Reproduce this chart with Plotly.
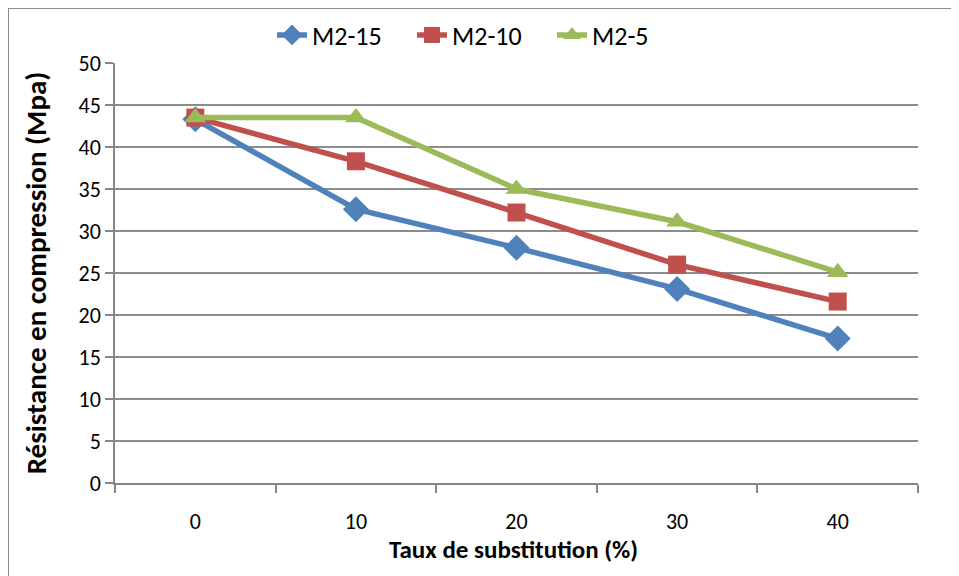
import plotly.graph_objects as go

categories = ["0", "10", "20", "30", "40"]
m2_15 = [43.3, 32.6, 28.0, 23.1, 17.2]
m2_10 = [43.5, 38.3, 32.2, 26.0, 21.6]
m2_5 = [43.5, 43.5, 35.0, 31.1, 25.1]
y_ticks = [0, 5, 10, 15, 20, 25, 30, 35, 40, 45, 50]

FONT = "Carlito, Lato, sans-serif"

# the page body has an 8px default margin, so the figure is 8px smaller
W, H = 951, 568
L, T, PW, PH = 107, 55, 803, 420

fig = go.Figure()
series = [
    ("M2-15", m2_15, "#4F81BD", "diamond", 20),
    ("M2-10", m2_10, "#C0504D", "square", 18),
    ("M2-5", m2_5, "#9BBB59", "triangle-up", 19),
]
for name, vals, col, sym, sz in series:
    fig.add_trace(go.Scatter(
        x=categories, y=vals, name=name, mode="lines+markers",
        line=dict(color=col, width=5.5),
        marker=dict(symbol=sym, size=sz, color=col),
    ))

fig.update_layout(
    width=W, height=H,
    margin=dict(l=L, r=W - L - PW, t=T, b=H - T - PH, autoexpand=False),
    paper_bgcolor="white", plot_bgcolor="white",
    font=dict(family=FONT, size=22, color="black"),
    showlegend=True,
    legend=dict(orientation="h", x=(482 - 8 - L) / PW, xanchor="center",
                y=1.0 - 27 / H, yref="container", yanchor="middle",
                font=dict(family=FONT, size=26),
                entrywidth=95, entrywidthmode="pixels",
                tracegroupgap=0),
    shapes=[dict(type="rect", xref="paper", yref="paper",
                 x0=-L / PW, x1=1.2, y0=-1, y1=1 + T / PH,
                 line=dict(color="#8C8C8C", width=2), layer="below")],
    annotations=[dict(text="<b>Taux de substitution (%)</b>", xref="paper",
                      yref="paper", x=(513 - 8 - L) / PW, y=-66 / PH,
                      xanchor="center", yanchor="middle", showarrow=False,
                      font=dict(family=FONT, size=25))],
)
fig.update_xaxes(
    type="category", tickson="boundaries", ticks="outside", ticklen=8,
    tickcolor="#868686", tickwidth=1.5,
    showline=True, linecolor="#868686", linewidth=1.5,
    showgrid=False, ticklabelstandoff=18,
    tickfont=dict(size=22),
    range=[-0.5, 4.5],
)
fig.update_yaxes(
    range=[0, 50], tickvals=y_ticks, ticks="outside", ticklen=8,
    tickcolor="#868686", tickwidth=1.5,
    showline=True, linecolor="#868686", linewidth=1.5,
    showgrid=True, gridcolor="#8C8C8C", gridwidth=1.5,
    zeroline=False, tickfont=dict(size=22),
    title=dict(text="<b>Résistance en compression (Mpa)</b>", standoff=23,
               font=dict(size=29)),
)

fig.write_html("out.html")
